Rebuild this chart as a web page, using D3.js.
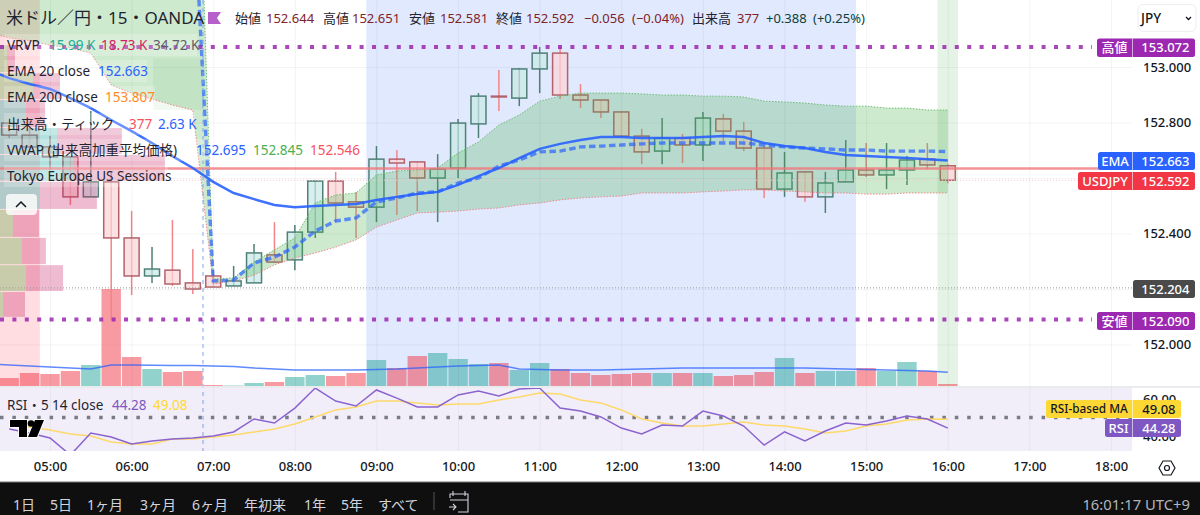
<!DOCTYPE html>
<html>
<head>
<meta charset="utf-8">
<script src="https://d3js.org/d3.v7.min.js"></script>
<style>
    body { margin: 0; background: #fff; }
    svg { display: block; }
    text { font-family: "Noto Sans", "Noto Sans CJK JP", sans-serif; }
    .gridlines line { stroke: rgba(42,46,57,0.05); }
    .gridlines .domain { stroke: none; }
    .axis .domain, .axis line { stroke: none; }
    .axis text { font-size: 13px; fill: #131722; font-weight: 500; }
</style>
</head>
<body>
<svg id="chart" width="1200" height="515"></svg>
<script>
// 15 minute bars, first one at 04:30
const firstBar = 4.5;
const opens  = [152.798,152.755,152.712,152.676,152.532,152.586,152.384,152.247,152.268,152.222,152.247,152.211,152.222,152.323,152.305,152.405,152.589,152.514,152.495,152.668,152.658,152.600,152.636,152.795,152.895,152.888,152.993,153.050,152.899,152.881,152.838,152.751,152.697,152.744,152.719,152.813,152.769,152.708,152.560,152.622,152.532,152.586,152.629,152.611,152.629,152.668,152.644];
const highs  = [152.798,152.787,152.751,152.676,152.841,152.622,152.481,152.351,152.449,152.344,152.268,152.283,152.362,152.441,152.431,152.593,152.622,152.550,152.715,152.701,152.658,152.686,152.813,152.906,152.989,152.996,153.072,153.072,152.939,152.881,152.838,152.777,152.816,152.759,152.838,152.831,152.802,152.715,152.694,152.622,152.622,152.737,152.726,152.726,152.679,152.726,152.651];
const lows   = [152.744,152.712,152.629,152.503,152.532,152.088,152.178,152.222,152.211,152.182,152.207,152.211,152.222,152.294,152.268,152.384,152.441,152.384,152.441,152.467,152.481,152.441,152.600,152.744,152.841,152.859,152.906,152.885,152.852,152.816,152.751,152.650,152.650,152.654,152.661,152.733,152.697,152.528,152.532,152.514,152.474,152.586,152.604,152.560,152.575,152.632,152.581];
const closes = [152.755,152.712,152.676,152.532,152.586,152.384,152.247,152.272,152.218,152.200,152.207,152.229,152.330,152.297,152.405,152.589,152.510,152.495,152.668,152.654,152.600,152.632,152.798,152.895,152.892,152.993,153.050,152.899,152.881,152.838,152.751,152.694,152.744,152.719,152.816,152.769,152.708,152.560,152.618,152.532,152.582,152.629,152.611,152.629,152.665,152.647,152.592];
const volumes = [1520,2470,2280,2850,3990,18430,5510,3230,2660,2850,190,95,570,760,1710,2090,1900,2470,4940,3420,5700,6270,5130,4180,4370,3040,4370,3230,2470,2090,2280,2470,2470,2470,2470,1900,2090,2660,5320,2470,2850,2850,3420,2850,4560,2850,377];
const rsi = [43.8,41.6,38.9,29.7,41.6,39.5,35.7,37.3,38.4,38.9,40.0,42.2,49.2,47.0,55.1,65.9,58.9,56.2,64.9,60.5,55.7,55.7,62.2,64.3,61.6,65.4,65.9,55.1,53.5,50.3,44.3,41.1,45.9,45.4,53.5,50.8,45.4,35.1,42.2,37.3,42.7,47.0,45.9,48.1,50.8,49.2,44.28];
const rsiMA = [47.0,44.9,43.2,41.1,40.0,36.8,35.7,35.7,38.4,38.4,39.5,40.5,42.2,43.8,46.5,50.3,54.1,55.7,58.9,58.9,57.8,56.8,57.3,57.3,59.5,61.1,63.2,62.7,59.5,57.8,54.1,49.2,47.0,45.4,45.4,46.5,47.6,45.9,45.4,43.8,41.6,42.7,45.4,46.5,48.6,49.2,49.08];

// overlays start one bar earlier, at 04:15
const firstOverlay = 4.25;
const volumeMA = [4180,3990,3800,3610,3420,3230,3990,3990,3950,3910,3880,3800,3700,3420,3230,3040,3040,3040,3040,3130,3230,3420,3610,3800,3900,3990,3230,3130,3040,3040,3040,3130,3230,3330,3420,3420,3420,3420,3420,3420,3420,3330,3230,3130,3040,2950,2850,2630];
const ema20 = [152.989,152.960,152.939,152.921,152.888,152.852,152.809,152.769,152.726,152.679,152.636,152.586,152.546,152.524,152.503,152.495,152.499,152.503,152.506,152.521,152.532,152.542,152.550,152.575,152.607,152.636,152.672,152.705,152.723,152.737,152.748,152.748,152.744,152.744,152.744,152.748,152.751,152.748,152.726,152.715,152.708,152.694,152.683,152.679,152.676,152.672,152.668,152.663];
const vwap = [null,null,null,null,null,null,null,null,null,null,153.674,152.229,152.232,152.294,152.315,152.351,152.409,152.445,152.456,152.514,152.528,152.546,152.550,152.582,152.600,152.643,152.665,152.694,152.697,152.712,152.715,152.719,152.723,152.726,152.726,152.726,152.726,152.726,152.719,152.712,152.708,152.705,152.701,152.701,152.697,152.697,152.697,152.695];
const bandUpper = [154.47,154.47,154.47,154.47,154.47,154.47,154.47,154.47,154.47,154.47,154.47,152.236,152.240,152.297,152.341,152.384,152.510,152.539,152.546,152.611,152.625,152.629,152.636,152.690,152.730,152.791,152.827,152.877,152.895,152.906,152.906,152.906,152.903,152.899,152.899,152.895,152.895,152.892,152.877,152.874,152.870,152.863,152.859,152.859,152.852,152.852,152.845,152.845];
const bandLower = [153.123,153.105,153.094,153.079,153.068,153.050,152.935,152.906,152.885,152.863,152.845,152.218,152.229,152.250,152.287,152.312,152.330,152.351,152.377,152.423,152.449,152.474,152.477,152.481,152.488,152.492,152.503,152.510,152.521,152.528,152.532,152.535,152.546,152.546,152.546,152.550,152.553,152.557,152.557,152.553,152.550,152.546,152.546,152.542,152.542,152.546,152.546,152.546];

// visible range volume profile, K
const vrvpEdges = [153.079,152.978,152.881,152.780,152.683,152.586,152.485,152.384,152.286,152.189,152.096];
const vrvpUp   = [0.41,1.94,1.53,3.35,4.29,2.35,0.76,1.29,1.53,0.18];
const vrvpDown = [0.47,1.59,1.12,3.82,5.41,3.35,1.53,1.41,2.18,1.29];

const sessions = [
    {name: 'Tokyo',  from: 4, to: 4.875, color: 'rgba(255,160,170,0.36)'},
    {name: 'Europe', from: 8.875, to: 14.875, color: 'rgba(41,98,255,0.14)'},
    {name: 'US',     from: 15.875, to: 16.125, color: 'rgba(76,175,80,0.15)'}
];

const priceTicks = [153, 152.8, 152.4, 152];
const priceGrid  = [153, 152.8, 152.6, 152.4, 152.2, 152];
const hourTicks  = [5,6,7,8,9,10,11,12,13,14,15,16,17,18];
const rangeLabels = ['1日','5日','1ヶ月','3ヶ月','6ヶ月','年初来','1年','5年','すべて'];
const rangeStart  = [13,50,87,140,192,244,304,341,378];

const red = '#f23645', teal = '#26a69a', purple = '#9c27b0', blue = '#2962ff';

const svg = d3.select('svg#chart');
const paneRight = 1132, volumeBase = 386, rsiTop = 388, rsiBottom = 451, axisBottom = 482;

const x = d3.scaleLinear().domain([5, 18]).range([50, 1111]);
const y = d3.scaleLinear().domain([152, 153]).range([344.5, 67]);
const yVol = d3.scaleLinear().domain([0, 190]).range([volumeBase, volumeBase - 1]);
const yRsi = d3.scaleLinear().domain([40, 60]).range([436, 399]);
const xVrvp = d3.scaleLinear().domain([0, 1]).range([0, 17]);

const barHour = i => firstBar + i * 0.25;
const overlayHour = i => firstOverlay + i * 0.25;

svg.append('defs').append('clipPath').attr('id', 'price').append('rect')
    .attr('width', paneRight).attr('height', volumeBase);
svg.append('defs').append('clipPath').attr('id', 'rsi').append('rect')
    .attr('y', rsiTop).attr('width', paneRight).attr('height', rsiBottom - rsiTop);

const pane = svg.append('g').attr('clip-path', 'url(#price)');

// sessions
pane.selectAll('rect.session').data(sessions).join('rect')
    .attr('x', d => Math.max(0, x(d.from))).attr('width', d => x(d.to) - Math.max(0, x(d.from)))
    .attr('y', 0).attr('height', volumeBase)
    .attr('fill', d => d.color);

// gridlines
pane.append('g').attr('class', 'gridlines')
    .call(d3.axisLeft(y).tickValues(priceGrid).tickSize(-paneRight).tickFormat(''));
svg.append('g').attr('class', 'gridlines')
    .call(d3.axisBottom(x).tickValues(hourTicks).tickSize(rsiBottom).tickFormat(''));

// volume bars
pane.selectAll('rect.vol').data(volumes).join('rect')
    .attr('x', (d, i) => x(barHour(i)) - 9.7).attr('width', 19.4)
    .attr('y', d => yVol(d)).attr('height', d => volumeBase - yVol(d))
    .attr('fill', (d, i) => closes[i] >= opens[i] ? teal : red)
    .attr('opacity', 0.5);
pane.append('path').datum(volumeMA)
    .attr('d', d3.line().x((d, i) => x(overlayHour(i))).y(d => yVol(d)))
    .attr('fill', 'none').attr('stroke', blue).attr('stroke-width', 1.5).attr('opacity', 0.75);

// candles
opens.forEach((o, i) => {
    const up = closes[i] >= o;
    const cx = x(barHour(i));
    pane.append('line').attr('x1', cx).attr('x2', cx).attr('y1', y(highs[i])).attr('y2', y(lows[i]))
        .attr('stroke', up ? '#4f7f77' : '#f2858a').attr('stroke-width', 1.5);
    pane.append('rect').attr('x', cx - 7.5).attr('width', 15)
        .attr('y', y(Math.max(o, closes[i]))).attr('height', Math.abs(y(o) - y(closes[i])))
        .attr('fill', up ? '#c9e9e6' : '#fbd5d8').attr('fill-opacity', 0.72)
        .attr('stroke', up ? '#4f8078' : '#b3626c').attr('stroke-width', 1.5);
});

// volume profile sits over the candles
vrvpUp.forEach((up, i) => {
    const top = y(vrvpEdges[i]), h = y(vrvpEdges[i + 1]) - top - 1;
    const tealRow = i >= 2 && i <= 5;
    pane.append('rect').attr('x', 0).attr('y', top).attr('width', xVrvp(up)).attr('height', h)
        .attr('fill', tealRow ? 'rgba(0,160,150,0.3)' : 'rgba(120,180,90,0.4)');
    pane.append('rect').attr('x', xVrvp(up)).attr('y', top).attr('width', xVrvp(vrvpDown[i])).attr('height', h)
        .attr('fill', 'rgba(200,30,100,0.3)');
});
// darker block inside the old band
pane.append('rect').attr('x', xVrvp(9)).attr('width', xVrvp(3))
    .attr('y', y(153.032)).attr('height', y(152.845) - y(153.032))
    .attr('fill', 'rgba(76,175,80,0.08)');

// VWAP band over the candles
const band = d3.area().x((d, i) => x(overlayHour(i)))
    .y0((d, i) => y(bandLower[i])).y1((d, i) => y(bandUpper[i]));
pane.append('path').datum(bandUpper).attr('d', band).attr('fill', 'rgba(76,175,80,0.28)');
[[bandUpper, '#6fbf73'], [bandLower, '#ef8a8f']].forEach(([vals, col]) => {
    pane.append('path').datum(vals)
        .attr('d', d3.line().x((d, i) => x(overlayHour(i))).y(d => y(d)))
        .attr('fill', 'none').attr('stroke', col).attr('stroke-width', 1).attr('stroke-dasharray', '1.5 1.5');
});

// session break
svg.append('line').attr('x1', x(6.875)).attr('x2', x(6.875)).attr('y1', 0).attr('y2', rsiBottom)
    .attr('stroke', '#7fa6ee').attr('stroke-width', 1).attr('stroke-dasharray', '4 4');

// price lines
pane.append('line').attr('x1', 0).attr('x2', paneRight).attr('y1', y(152.592)).attr('y2', y(152.592))
    .attr('stroke', '#f9c5c8').attr('stroke-dasharray', '1 2');
pane.append('line').attr('x1', 0).attr('x2', paneRight).attr('y1', y(152.204)).attr('y2', y(152.204))
    .attr('stroke', '#9a9a9a').attr('stroke-dasharray', '1 2');
pane.append('line').attr('x1', 0).attr('x2', paneRight).attr('y1', y(152.634)).attr('y2', y(152.634))
    .attr('stroke', '#f2787e').attr('stroke-width', 2.5).attr('opacity', 0.8);

// EMA and VWAP
pane.append('path').datum(ema20)
    .attr('d', d3.line().x((d, i) => x(overlayHour(i))).y(d => y(d)))
    .attr('fill', 'none').attr('stroke', blue).attr('stroke-width', 2.5).attr('opacity', 0.9);
pane.append('path').datum(vwap)
    .attr('d', d3.line().defined(d => d !== null).x((d, i) => x(overlayHour(i))).y(d => y(d)))
    .attr('fill', 'none').attr('stroke', blue).attr('stroke-width', 3.4).attr('opacity', 0.7)
    .attr('stroke-dasharray', '6.5 3.5');

// high and low
[153.072, 152.090].forEach(p => {
    svg.append('line').attr('x1', 0).attr('x2', 1092).attr('y1', y(p)).attr('y2', y(p))
        .attr('stroke', purple).attr('stroke-width', 4).attr('stroke-dasharray', '4 8.4').attr('opacity', 0.85);
});

// RSI pane
const rsiPane = svg.append('g').attr('clip-path', 'url(#rsi)');
rsiPane.append('rect').attr('y', rsiTop).attr('width', paneRight).attr('height', rsiBottom - rsiTop)
    .attr('fill', 'rgba(126,87,194,0.1)');
rsiPane.append('line').attr('x1', 0).attr('x2', paneRight).attr('y1', yRsi(50)).attr('y2', yRsi(50))
    .attr('stroke', '#787b86').attr('stroke-width', 3.5).attr('stroke-dasharray', '3.5 8.9');
rsiPane.append('path').datum(rsiMA)
    .attr('d', d3.line().x((d, i) => x(barHour(i))).y(d => yRsi(d)))
    .attr('fill', 'none').attr('stroke', '#fdd96a').attr('stroke-width', 1.5);
rsiPane.append('path').datum(rsi)
    .attr('d', d3.line().x((d, i) => x(barHour(i))).y(d => yRsi(d)))
    .attr('fill', 'none').attr('stroke', '#8a63cf').attr('stroke-width', 1.5);
svg.append('line').attr('x1', 0).attr('x2', 1200).attr('y1', 387).attr('y2', 387)
    .attr('stroke', '#e3e4e8').attr('stroke-width', 1.5);

// axes
svg.append('g').attr('class', 'axis').attr('transform', `translate(${paneRight + 11},0)`)
    .call(d3.axisRight(y).tickValues(priceTicks).tickSize(0).tickPadding(0).tickFormat(d3.format('.3f')));
svg.append('g').attr('class', 'axis').attr('transform', `translate(0,${rsiBottom + 11})`)
    .call(d3.axisBottom(x).tickValues(hourTicks).tickSize(0).tickPadding(0).tickFormat(d => `${String(d).padStart(2, '0')}:00`));

// legend
const label = (px, py, str, size, color, anchor, weight) => svg.append('text')
    .attr('x', px).attr('y', py).attr('dy', '0.35em')
    .attr('font-size', size).attr('fill', color)
    .attr('text-anchor', anchor || 'start').attr('font-weight', weight || 400).text(str);

const ink = '#1f2430';
label(6, 18, '米ドル／円・15・OANDA', 17, ink);
svg.append('path').attr('d', 'M208 12H221L217 18L221 24H208Z').attr('fill', '#b561c9');

const dark = '#7f2229', deep = '#0b4038';
[[235,'始値',ink],[266,'152.644',dark],[323,'高値',ink],[352,'152.651',dark],[409,'安値',ink],[440,'152.581',dark],
 [496,'終値',ink],[526,'152.592',dark],[584,'−0.056',dark],[632,'(−0.04%)',dark],[692,'出来高',ink],[737,'377',dark],
 [766,'+0.388',deep],[813,'(+0.25%)',deep]].forEach(([px, str, col]) => label(px, 18.5, str, 13, col));

const legendRows = [
    [45, 197, [[7,'VRVP',ink],[49,'15.99 K','#22ab94'],[101,'18.73 K','#d81b60'],[153,'34.72 K','#5d606b']]],
    [71, 147, [[7,'EMA 20 close',ink],[98,'152.663',blue]]],
    [97, 155, [[7,'EMA 200 close',ink],[105,'153.807','#ff8a1f']]],
    [124,195, [[7,'出来高・ティック',ink],[129,'377','#f7525f'],[158,'2.63 K',blue]]],
    [150,360, [[7,'VWAP (出来高加重平均価格)',ink],[196,'152.695',blue],[253,'152.845','#4caf50'],[310,'152.546','#f7525f']]],
    [176,168, [[7,'Tokyo Europe US Sessions',ink]]]
];
legendRows.forEach(([py, right, parts]) => {
    svg.append('rect').attr('x', 4).attr('y', py - 11).attr('width', right - 4).attr('height', 22)
        .attr('fill', 'rgba(255,255,255,0.22)');
    parts.forEach(([px, str, col]) => label(px, py, str, 13.5, col));
});

// collapse button
svg.append('rect').attr('x', 6).attr('y', 194).attr('width', 31).attr('height', 21).attr('rx', 4)
    .attr('fill', 'rgba(255,255,255,0.8)');
svg.append('path').attr('d', 'M16 207L21 202L26 207').attr('fill', 'none').attr('stroke', '#131722').attr('stroke-width', 1.5);

// logo
svg.append('path').attr('d', 'M10 420H27V437H19V427H10Z M44 420L37 437H28L35 420Z')
    .attr('fill', '#000').attr('stroke', '#fff').attr('stroke-width', 2).attr('paint-order', 'stroke');
svg.append('circle').attr('cx', 31).attr('cy', 423.5).attr('r', 3.3).attr('fill', '#000');

// tags on the price scale
const tag = (left, top, bottom, right, bg, fg, name, value, nameSize) => {
    svg.append('rect').attr('x', left).attr('y', top).attr('width', right - left).attr('height', bottom - top)
        .attr('rx', 2.5).attr('fill', bg);
    svg.append('line').attr('x1', paneRight + .5).attr('x2', paneRight + .5).attr('y1', top).attr('y2', bottom)
        .attr('stroke', 'rgba(255,255,255,0.6)');
    if (name) label((left + paneRight) / 2, (top + bottom) / 2, name, nameSize || 13, fg, 'middle', 500);
    label(right - 5.5, (top + bottom) / 2, value, 13, fg, 'end', 500);
};
// RSI scale labels sit behind the RSI tags
svg.append('g').attr('class', 'axis').attr('transform', `translate(${paneRight + 11},0)`)
    .call(d3.axisRight(yRsi).tickValues([60, 40]).tickSize(0).tickPadding(0).tickFormat(d3.format('.2f')));
tag(1097, 38.5, 57, 1195, purple, '#fff', '高値', '153.072');
tag(1098, 152, 170, 1195, blue, '#fff', 'EMA', '152.663');
tag(1078, 172, 190, 1195, red, '#fff', 'USDJPY', '152.592');
tag(1133, 280, 298, 1195, '#4a4a4a', '#fff', null, '152.204');
tag(1097, 312, 330, 1195, purple, '#fff', '安値', '152.090');
tag(1046, 400, 418, 1181, '#fdd835', '#131722', 'RSI-based MA', '49.08', 11.8);
tag(1105, 419, 437, 1181, '#7e57c2', '#fff', 'RSI', '44.28');

// RSI legend
label(7, 405, 'RSI・5 14 close', 13.5, ink);
label(112, 405, '44.28', 13.5, '#7e57c2');
label(153, 405, '49.08', 13.5, '#fdd835');

// currency button
svg.append('rect').attr('x', 1138).attr('y', 4.5).attr('width', 58).attr('height', 27).attr('rx', 5)
    .attr('fill', '#fff').attr('stroke', '#eceef1');
label(1141, 18, 'JPY', 13.5, '#131722', 'start', 500);
svg.append('path').attr('d', 'M1186 17L1188.5 19.5L1191 17').attr('fill', 'none').attr('stroke', '#131722').attr('stroke-width', 1.3);

// settings
svg.append('path').attr('d', 'M1159 468L1163 461H1171L1175 468L1171 475H1163Z').attr('fill', 'none').attr('stroke', '#131722').attr('stroke-width', 1.2);
svg.append('circle').attr('cx', 1167).attr('cy', 468).attr('r', 2.5).attr('fill', 'none').attr('stroke', '#131722').attr('stroke-width', 1.2);

// bottom toolbar
svg.append('rect').attr('y', axisBottom).attr('width', 1200).attr('height', 515 - axisBottom).attr('fill', '#0f0f0f');
svg.append('line').attr('x1', 0).attr('x2', 1200).attr('y1', axisBottom).attr('y2', axisBottom).attr('stroke', '#777');
rangeLabels.forEach((d, i) => label(rangeStart[i], 505, d, 14, '#d1d4dc'));
svg.append('line').attr('x1', 434).attr('x2', 434).attr('y1', 492).attr('y2', 510).attr('stroke', '#555');
svg.append('path').attr('d', 'M450 498V494H468V512H458 M453 491V496 M465 491V496 M450 500H468 M449 507H456 M453 504L456 507L453 510')
    .attr('fill', 'none').attr('stroke', '#d1d4dc').attr('stroke-width', 1.1);
label(1190, 505, '16:01:17 UTC+9', 14.8, '#b2b5be', 'end');
</script>
</body>
</html>
